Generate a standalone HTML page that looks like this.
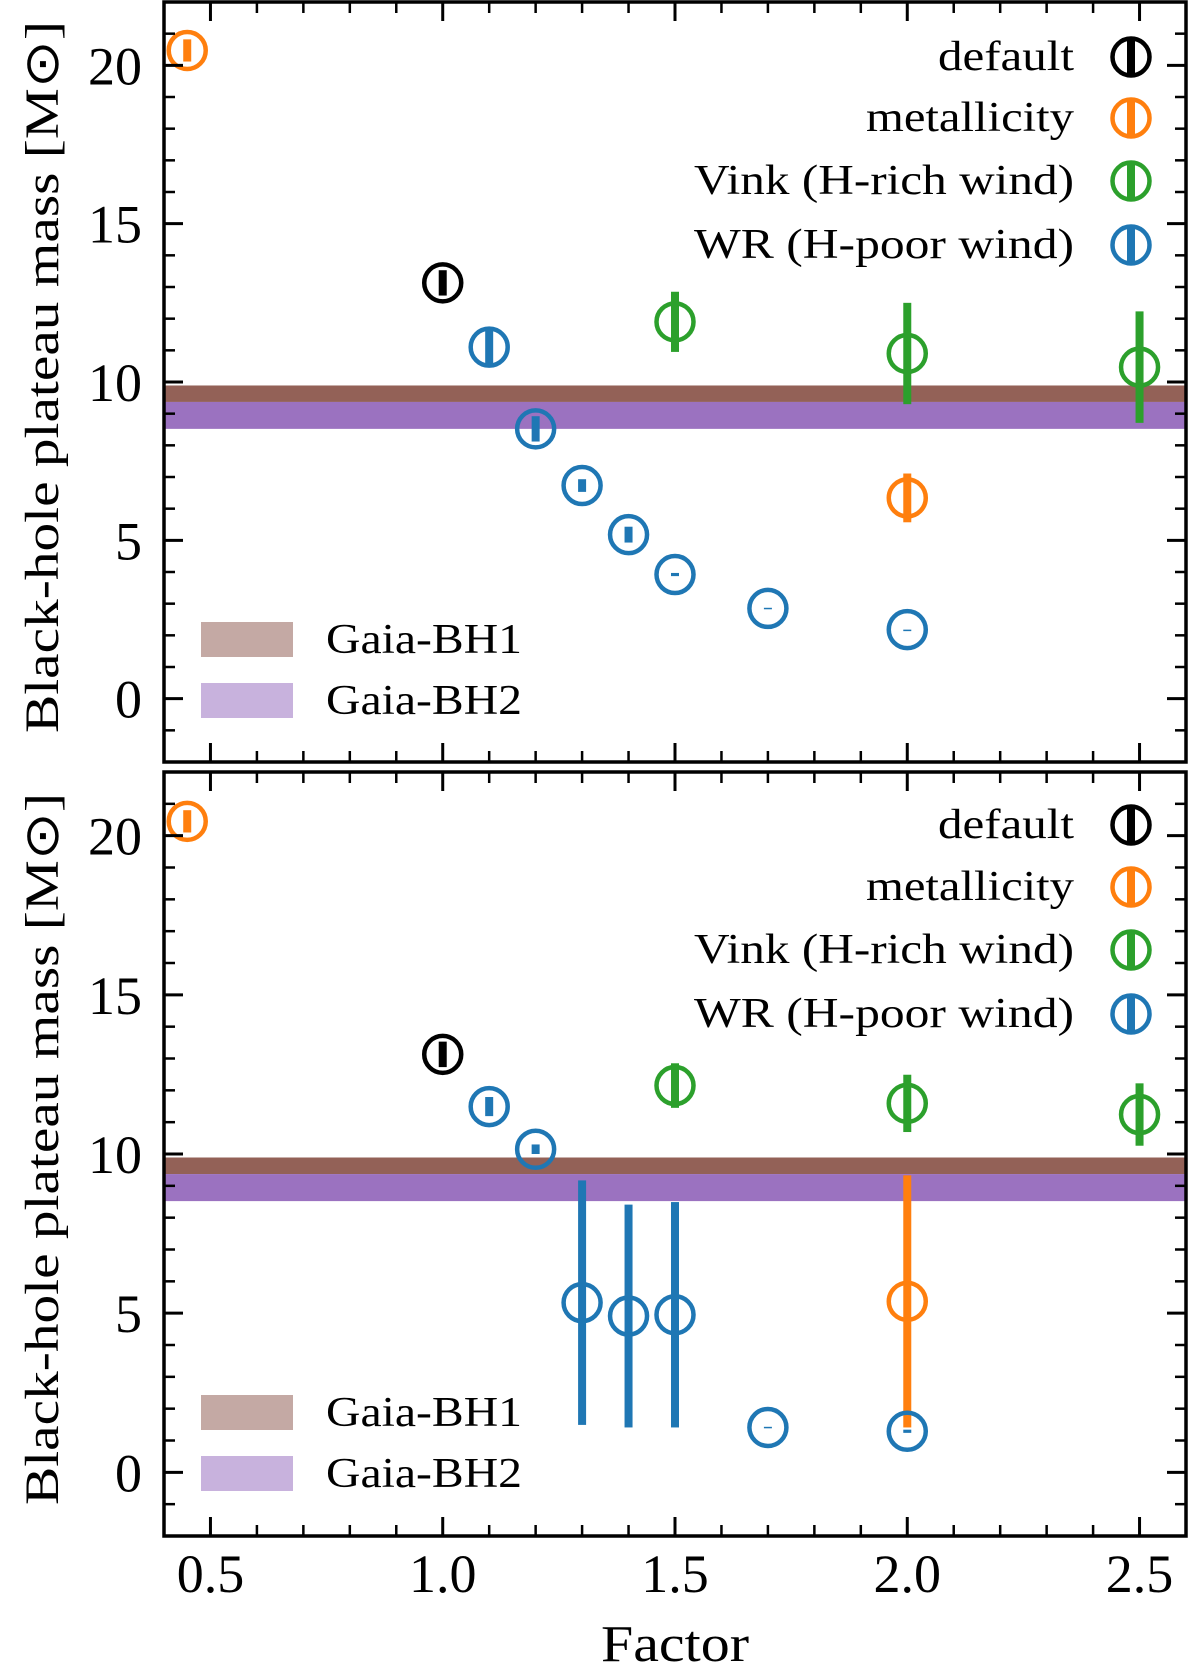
<!DOCTYPE html>
<html><head><meta charset="utf-8"><style>
html,body{margin:0;padding:0;background:#fff;}
svg{display:block;}
text{font-family:"Liberation Serif",serif;fill:#000;}
</style></head><body>
<svg id="chart" width="1200" height="1670" viewBox="0 0 1200 1670" xmlns="http://www.w3.org/2000/svg">
<text x="675" y="1661" font-size="52" text-anchor="middle" textLength="148" lengthAdjust="spacingAndGlyphs">Factor</text>
</svg>
<script>
// ---- data ----
const bands = ["Gaia-BH1","Gaia-BH2"];
const bandLow = [9.37, 8.52];
const bandHigh = [9.89, 9.37];
const seriesNames = ["default","metallicity","Vink (H-rich wind)","WR (H-poor wind)"];
// top panel
const topDefaultX=[1.0], topDefaultY=[13.13], topDefaultE=[0.4];
const topMetalX=[0.45,2.0], topMetalY=[20.47,6.34], topMetalE=[0.35,0.77];
const topVinkX=[1.5,2.0,2.5], topVinkY=[11.9,10.9,10.47], topVinkE=[0.95,1.6,1.76];
const topWRX=[1.1,1.2,1.3,1.4,1.5,1.7,2.0], topWRY=[11.1,8.52,6.73,5.18,3.92,2.85,2.18], topWRE=[0.6,0.4,0.2,0.25,0.05,0.02,0.0];
// bottom panel
const botDefaultX=[1.0], botDefaultY=[13.13], botDefaultE=[0.4];
const botMetalX=[0.45,2.0], botMetalY=[20.45,5.37], botMetalE=[0.35,3.96];
const botVinkX=[1.5,2.0,2.5], botVinkY=[12.15,11.59,11.24], botVinkE=[0.7,0.9,0.98];
const botWRX=[1.1,1.2,1.3,1.4,1.5,1.7,2.0], botWRY=[11.49,10.15,5.33,4.91,4.95,1.41,1.29], botWRE=[0.3,0.15,3.84,3.5,3.54,0.02,0.05];
const xTicks=["0.5","1.0","1.5","2.0","2.5"];
const yTicks=["0","5","10","15","20"];

const NS="http://www.w3.org/2000/svg";
const svg=document.getElementById('chart');
function mk(tag,attrs,parent){const e=document.createElementNS(NS,tag);for(const k in attrs)e.setAttribute(k,attrs[k]);(parent||svg).appendChild(e);return e;}
const X0=164,X1=1186,XMIN=0.4,XMAX=2.6;
function sx(v){return X0+(v-XMIN)/(XMAX-XMIN)*(X1-X0);}
const colors=["#000000","#ff7f0e","#2ca02c","#1f77b4"];
const bandColors=["#936157","#9b72c0"], bandLegend=["#c4a9a4","#c8b2dd"];
const legendLens=[136,208,380,380];

function panel(name,T,B,sets,legendRows,patchY){
  const g=mk('g',{});
  
  
  const sy=v=>B-(v+2)/24*(B-T);
  for(let i=0;i<bands.length;i++){
    const r=mk('rect',{x:X0,y:sy(bandHigh[i]),width:X1-X0,height:sy(bandLow[i])-sy(bandHigh[i]),fill:bandColors[i]},g);
    
    
  }
  sets.forEach((s,si)=>{
    const [xs,ys,es]=s;
    for(let i=0;i<xs.length;i++){
      const cx=sx(xs[i]),cy=sy(ys[i]);
      const c=mk('circle',{cx:cx,cy:cy,r:18.5,fill:'none',stroke:colors[si],'stroke-width':4.5},g);
      
      
      const e=mk('rect',{x:cx-4,y:sy(ys[i]+es[i]),width:8,height:Math.max(1.5,sy(ys[i]-es[i])-sy(ys[i]+es[i])),fill:colors[si]},g);
      
      
    }
  });
  for(let v=-2;v<=22;v++){
    const maj=v%5===0, L=maj?19:11;
    mk('line',{x1:X0,x2:X0+L,y1:sy(v),y2:sy(v),stroke:'#000','stroke-width':maj?3:2.5},g);
    mk('line',{x1:X1,x2:X1-L,y1:sy(v),y2:sy(v),stroke:'#000','stroke-width':maj?3:2.5},g);
  }
  for(let k=4;k<=26;k++){
    const v=k/10, maj=k%5===0, L=maj?19:11;
    mk('line',{x1:sx(v),x2:sx(v),y1:T,y2:T+L,stroke:'#000','stroke-width':maj?3:2.5},g);
    mk('line',{x1:sx(v),x2:sx(v),y1:B,y2:B-L,stroke:'#000','stroke-width':maj?3:2.5},g);
  }
  yTicks.forEach(t=>{
    const tx=mk('text',{x:142,y:sy(+t)+19,'font-size':54,'text-anchor':'end'},g);
    tx.textContent=t;
    
    
  });
  const fr=mk('rect',{x:X0,y:T,width:X1-X0,height:B-T,fill:'none',stroke:'#000','stroke-width':3.5},g);
  
  
  seriesNames.forEach((n,i)=>{
    const ly=legendRows[i];
    const lt=mk('text',{x:1074,y:ly+13,'font-size':42,'text-anchor':'end',textLength:legendLens[i],lengthAdjust:'spacingAndGlyphs'},g);
    lt.textContent=n;
    
    
    mk('circle',{cx:1131,cy:ly,r:18.5,fill:'none',stroke:colors[i],'stroke-width':4.5},g);
    mk('rect',{x:1127,y:ly-20,width:8,height:40,fill:colors[i]},g);
  });
  bands.forEach((b,i)=>{
    const py=patchY[i];
    const p=mk('rect',{x:201,y:py,width:92,height:35,fill:bandLegend[i]},g);
    
    
    const t=mk('text',{x:326,y:py+31,'font-size':42,textLength:196,lengthAdjust:'spacingAndGlyphs'},g);
    t.textContent=b;
    
    
  });
  const mid=(T+B)/2-5;
  const yl=mk('text',{x:0,y:0,'font-size':48,'text-anchor':'middle',textLength:712,lengthAdjust:'spacingAndGlyphs',transform:`translate(58,${mid}) rotate(-90)`},g);
  yl.textContent='Black-hole plateau mass [M\u2299]';
  
  
}
panel('top-panel',2,762,[[topDefaultX,topDefaultY,topDefaultE],[topMetalX,topMetalY,topMetalE],[topVinkX,topVinkY,topVinkE],[topWRX,topWRY,topWRE]],[57,118,181,245],[622,683]);
panel('bottom-panel',772,1536,[[botDefaultX,botDefaultY,botDefaultE],[botMetalX,botMetalY,botMetalE],[botVinkX,botVinkY,botVinkE],[botWRX,botWRY,botWRE]],[825,887,950,1014],[1395,1456]);
xTicks.forEach(t=>{
  const tx=mk('text',{x:sx(+t),y:1592,'font-size':54,'text-anchor':'middle'});
  tx.textContent=t;
  
  
});
</script>
</body></html>
